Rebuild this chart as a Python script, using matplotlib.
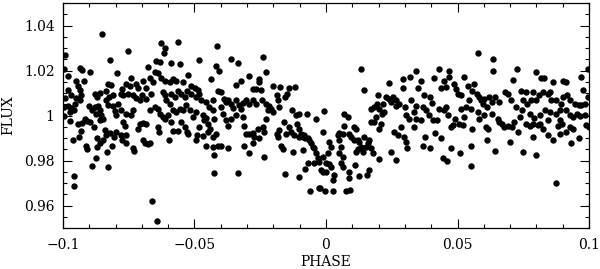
import matplotlib
matplotlib.use('Agg')
import matplotlib.pyplot as plt
from matplotlib.ticker import MultipleLocator, FuncFormatter
import numpy as np

# (phase, flux) pairs, grouped by phase range
seg1 = [(-0.0852,1.0362),(-0.0994,1.0270),(-0.0997,1.0207),(-0.0820,1.0246),(-0.0937,1.0212),(-0.0927,1.0201),
        (-0.0899,1.0195),(-0.0981,1.0174),(-0.0795,1.0188),(-0.0949,1.0155),(-0.0920,1.0155),(-0.0829,1.0141),
        (-0.0819,1.0137),(-0.0981,1.0114),(-0.0943,1.0133),(-0.0934,1.0114),(-0.0991,1.0077),(-0.0968,1.0089),
        (-0.0930,1.0092),(-0.0880,1.0096),(-0.0870,1.0082),(-0.0858,1.0102),(-0.0838,1.0108),(-0.0825,1.0082),
        (-0.0810,1.0089),(-0.0952,1.0077),(-0.0996,1.0038),(-0.0981,1.0041),(-0.0968,1.0035),(-0.0959,1.0023),
        (-0.0975,1.0016),(-0.0996,0.9996),(-0.0901,1.0041),(-0.0891,1.0026),(-0.0880,1.0038),(-0.0867,1.0041),
        (-0.0861,1.0023),(-0.0873,1.0008),(-0.0854,1.0001),(-0.0848,0.9985),(-0.0835,1.0067),(-0.0829,1.0045),
        (-0.0810,1.0041),(-0.0804,1.0020),(-0.0791,1.0052),(-0.0797,1.0001),(-0.0956,1.0049),(-0.0934,1.0067),
        (-0.0972,0.9976),(-0.0943,0.9964),(-0.0927,0.9967),(-0.0916,0.9985),(-0.0909,0.9976),(-0.0896,0.9970),
        (-0.0883,0.9949),(-0.0861,0.9979),(-0.0930,0.9932),(-0.0939,0.9905),(-0.0962,0.9891),(-0.0871,0.9902),
        (-0.0842,0.9935),(-0.0838,0.9913),(-0.0823,0.9924),(-0.0807,0.9905),(-0.0797,0.9927),(-0.0914,0.9866),
        (-0.0908,0.9852),(-0.0871,0.9861),(-0.0861,0.9876),(-0.0848,0.9893),(-0.0812,0.9866),(-0.0833,0.9839),
        (-0.0889,0.9777),(-0.0873,0.9810),(-0.0829,0.9770),(-0.0957,0.9729),(-0.0959,0.9688)]

seg2 = [(-0.0753,1.0287),(-0.0627,1.0321),(-0.0611,1.0302),(-0.0616,1.0276),(-0.0561,1.0326),(-0.0484,1.0246),
        (-0.0415,1.0307),(-0.0677,1.0214),(-0.0646,1.0244),(-0.0633,1.0236),(-0.0589,1.0233),(-0.0557,1.0231),
        (-0.0652,1.0192),(-0.0639,1.0188),(-0.0525,1.0182),(-0.0418,1.0221),(-0.0407,1.0200),(-0.0437,1.0162),
        (-0.0696,1.0155),(-0.0671,1.0167),(-0.0658,1.0148),(-0.0627,1.0167),(-0.0614,1.0155),(-0.0595,1.0148),
        (-0.0582,1.0162),(-0.0570,1.0155),(-0.0544,1.0151),(-0.0513,1.0129),(-0.0500,1.0123),(-0.0487,1.0114),
        (-0.0481,1.0096),(-0.0775,1.0118),(-0.0762,1.0141),(-0.0747,1.0129),(-0.0741,1.0167),(-0.0722,1.0141),
        (-0.0715,1.0123),(-0.0686,1.0123),(-0.0779,1.0096),(-0.0770,1.0089),(-0.0753,1.0096),(-0.0734,1.0089),
        (-0.0722,1.0079),(-0.0706,1.0070),(-0.0684,1.0074),(-0.0699,1.0089),(-0.0665,1.0096),(-0.0620,1.0104),
        (-0.0611,1.0089),(-0.0608,1.0067),(-0.0595,1.0052),(-0.0589,1.0096),(-0.0576,1.0082),(-0.0563,1.0111),
        (-0.0551,1.0096),(-0.0538,1.0082),(-0.0529,1.0111),(-0.0513,1.0096),(-0.0494,1.0082),(-0.0475,1.0067),
        (-0.0456,1.0060),(-0.0443,1.0038),(-0.0430,1.0023),(-0.0411,1.0108),(-0.0430,1.0070),(-0.0671,1.0023),
        (-0.0652,1.0038),(-0.0639,1.0030),(-0.0633,1.0008),(-0.0620,0.9994),(-0.0601,1.0001),(-0.0582,1.0023),
        (-0.0570,1.0016),(-0.0557,1.0030),(-0.0544,1.0023),(-0.0532,1.0045),(-0.0519,1.0023),(-0.0506,0.9994),
        (-0.0494,1.0016),(-0.0468,1.0001),(-0.0462,0.9979),(-0.0456,0.9990),(-0.0450,0.9964),(-0.0424,0.9986),
        (-0.0779,1.0023),(-0.0760,1.0008),(-0.0741,1.0001),(-0.0734,1.0023),(-0.0772,0.9972),(-0.0766,0.9952),
        (-0.0715,0.9942),(-0.0709,0.9964),(-0.0696,0.9967),(-0.0684,0.9964),(-0.0639,0.9949),(-0.0635,0.9927),
        (-0.0614,0.9986),(-0.0589,0.9972),(-0.0582,0.9931),(-0.0563,0.9931),(-0.0551,0.9972),(-0.0538,0.9949),
        (-0.0530,0.9927),(-0.0525,0.9917),(-0.0491,0.9913),(-0.0481,0.9949),(-0.0468,0.9908),(-0.0450,0.9927),
        (-0.0442,0.9942),(-0.0430,0.9905),(-0.0418,0.9920),(-0.0775,0.9891),(-0.0760,0.9913),(-0.0779,0.9913),
        (-0.0762,0.9876),(-0.0734,0.9854),(-0.0731,0.9844),(-0.0696,0.9891),(-0.0690,0.9876),(-0.0677,0.9873),
        (-0.0671,0.9876),(-0.0597,0.9891),(-0.0494,0.9891),(-0.0456,0.9866),(-0.0430,0.9861),(-0.0411,0.9864),
        (-0.0426,0.9744),(-0.0661,0.9618),(-0.0643,0.9533)]

seg3 = [(-0.0361,1.0251),(-0.0335,1.0232),(-0.0240,1.0262),(-0.0228,1.0192),(-0.0294,1.0174),(-0.0323,1.0155),
        (-0.0342,1.0137),(-0.0255,1.0162),(-0.0253,1.0148),(-0.0278,1.0118),(-0.0266,1.0118),(-0.0249,1.0114),
        (-0.0200,1.0131),(-0.0174,1.0128),(-0.0142,1.0123),(-0.0116,1.0128),(-0.0399,1.0104),(-0.0386,1.0074),
        (-0.0380,1.0060),(-0.0373,1.0067),(-0.0361,1.0052),(-0.0354,1.0035),(-0.0342,1.0070),(-0.0331,1.0045),
        (-0.0323,1.0030),(-0.0316,1.0055),(-0.0304,1.0067),(-0.0291,1.0052),(-0.0278,1.0067),(-0.0266,1.0052),
        (-0.0243,1.0070),(-0.0228,1.0052),(-0.0221,1.0023),(-0.0215,1.0041),(-0.0209,1.0030),(-0.0202,1.0016),
        (-0.0187,1.0089),(-0.0183,1.0067),(-0.0177,1.0038),(-0.0154,1.0082),(-0.0149,1.0096),(-0.0129,1.0023),
        (-0.0114,1.0001),(-0.0101,1.0008),(-0.0073,1.0008),(-0.0038,0.9986),(-0.0399,1.0038),(-0.0392,1.0008),
        (-0.0380,0.9979),(-0.0373,0.9952),(-0.0361,0.9986),(-0.0342,1.0001),(-0.0316,0.9994),(-0.0310,0.9952),
        (-0.0304,0.9920),(-0.0294,0.9917),(-0.0278,0.9923),(-0.0272,0.9905),(-0.0259,0.9942),(-0.0256,0.9898),
        (-0.0240,0.9949),(-0.0234,0.9927),(-0.0228,0.9986),(-0.0187,0.9920),(-0.0183,0.9905),(-0.0177,0.9935),
        (-0.0158,0.9972),(-0.0152,0.9920),(-0.0142,0.9949),(-0.0133,0.9927),(-0.0120,0.9913),(-0.0111,0.9964),
        (-0.0104,0.9938),(-0.0101,0.9905),(-0.0095,0.9920),(-0.0088,0.9905),(-0.0082,0.9913),(-0.0078,0.9898),
        (-0.0069,0.9902),(-0.0063,0.9891),(-0.0057,0.9876),(-0.0050,0.9861),(-0.0044,0.9854),(-0.0038,0.9832),
        (-0.0031,0.9810),(-0.0044,0.9788),(-0.0069,0.9788),(-0.0088,0.9846),(-0.0078,0.9761),(-0.0424,0.9825),
        (-0.0399,0.9864),(-0.0373,0.9854),(-0.0310,0.9864),(-0.0291,0.9832),(-0.0278,0.9876),(-0.0234,0.9817),
        (-0.0173,0.9864),(-0.0164,0.9849),(-0.0124,0.9839),(-0.0104,0.9726),(-0.0154,0.9739),(-0.0333,0.9744),
        (-0.0059,0.9666),(-0.0027,0.9678)]

seg4 = [(0.0133,1.0208),(0.0144,1.0113),(0.0197,1.0092),(0.0241,1.0143),(0.0292,1.0163),(0.0320,1.0170),
        (0.0342,1.0200),(0.0349,1.0123),(0.0292,1.0123),(0.0228,1.0082),(0.0241,1.0074),(0.0254,1.0082),
        (0.0247,1.0060),(0.0266,1.0067),(0.0279,1.0052),(0.0266,1.0041),(0.0302,1.0038),(0.0323,1.0067),
        (0.0342,1.0041),(0.0336,1.0016),(0.0304,1.0001),(0.0317,0.9986),(0.0342,0.9986),(0.0285,0.9949),
        (0.0336,0.9949),(0.0171,1.0030),(0.0184,1.0038),(0.0193,1.0052),(0.0203,1.0030),(0.0213,1.0008),
        (0.0216,1.0052),(0.0222,1.0016),(0.0190,0.9994),(0.0171,0.9972),(0.0184,0.9972),(0.0209,0.9964),
        (0.0203,0.9942),(0.0260,0.9927),(0.0273,0.9913),(0.0298,0.9905),(0.0304,0.9883),(0.0307,0.9854),
        (0.0247,0.9836),(0.0266,0.9802),(0.0201,0.9806),(0.0108,0.9949),(0.0114,0.9938),(0.0089,0.9920),
        (0.0095,0.9905),(0.0108,0.9891),(0.0121,0.9893),(0.0127,0.9883),(0.0133,0.9861),(0.0140,0.9839),
        (0.0152,0.9861),(0.0159,0.9876),(0.0165,0.9891),(0.0171,0.9854),(0.0178,0.9832),(0.0146,0.9905),
        (0.0114,0.9839),(0.0121,0.9849),(0.0112,0.9780),(0.0127,0.9729),(0.0156,0.9734),(0.0163,0.9758),
        (0.0089,0.9751),(0.0087,0.9722),(0.0068,1.0008),(0.0083,0.9994),(0.0070,0.9952),(0.0064,0.9920),
        (0.0049,0.9923),(0.0045,0.9913),(0.0051,0.9891),(0.0057,0.9861),(0.0051,0.9832),(0.0064,0.9817),
        (0.0057,0.9788),(0.0064,0.9773),(0.0032,0.9737),(0.0028,0.9714),(-0.0006,1.0020),(-0.0010,0.9927),
        (0.0013,0.9883),(0.0019,0.9861),(0.0007,0.9832),(-0.0012,0.9817),(0.0000,0.9788),(0.0013,0.9785),
        (0.0019,0.9773),(-0.0019,0.9758),(-0.0010,0.9750),(0.0000,0.9750),(-0.0025,0.9795),(-0.0022,0.9678),
        (-0.0003,0.9663),(0.0026,0.9666),(0.0076,0.9666),(0.0093,0.9667)]

seg5 = [(0.0579,1.0280),(0.0634,1.0251),(0.0636,1.0199),(0.0428,1.0207),(0.0466,1.0196),(0.0409,1.0167),
        (0.0437,1.0123),(0.0450,1.0155),(0.0456,1.0126),(0.0469,1.0172),(0.0488,1.0140),(0.0494,1.0118),
        (0.0501,1.0096),(0.0513,1.0089),(0.0526,1.0169),(0.0539,1.0133),(0.0545,1.0067),(0.0555,1.0111),
        (0.0564,1.0141),(0.0573,1.0096),(0.0583,1.0082),(0.0589,1.0067),(0.0596,1.0052),(0.0602,1.0074),
        (0.0611,1.0038),(0.0621,1.0082),(0.0631,1.0060),(0.0644,1.0082),(0.0659,1.0060),(0.0682,1.0104),
        (0.0691,1.0096),(0.0703,1.0070),(0.0710,1.0158),(0.0725,1.0207),(0.0722,1.0038),(0.0363,1.0152),
        (0.0374,1.0089),(0.0380,1.0023),(0.0368,1.0038),(0.0391,1.0001),(0.0396,1.0082),(0.0403,1.0055),
        (0.0421,0.9979),(0.0416,0.9923),(0.0431,1.0030),(0.0450,1.0023),(0.0456,1.0038),(0.0463,1.0001),
        (0.0475,0.9949),(0.0482,0.9957),(0.0492,0.9986),(0.0504,0.9961),(0.0513,1.0030),(0.0520,0.9957),
        (0.0526,0.9994),(0.0532,1.0038),(0.0551,1.0030),(0.0555,0.9942),(0.0577,1.0016),(0.0583,0.9986),
        (0.0602,1.0001),(0.0608,0.9949),(0.0615,0.9942),(0.0611,0.9893),(0.0631,1.0005),(0.0653,0.9986),
        (0.0659,0.9972),(0.0669,0.9961),(0.0678,0.9949),(0.0691,0.9952),(0.0707,0.9949),(0.0716,0.9972),
        (0.0729,0.9927),(0.0701,0.9883),(0.0643,0.9843),(0.0551,0.9864),(0.0509,0.9835),(0.0551,0.9776),
        (0.0475,0.9857),(0.0444,0.9810),(0.0460,0.9799),(0.0397,0.9854),(0.0368,0.9866),(0.0378,0.9905),
        (0.0437,0.9901),(0.0406,0.9979),(0.0361,0.9979)]

seg6 = [(0.0799,1.0194),(0.0818,1.0166),(0.0827,1.0166),(0.0865,1.0148),(0.0901,1.0152),(0.0911,1.0148),
        (0.0970,1.0173),(0.0997,1.0207),(0.0742,1.0108),(0.0761,1.0104),(0.0787,1.0104),(0.0749,1.0067),
        (0.0764,1.0052),(0.0780,1.0067),(0.0799,1.0070),(0.0809,1.0089),(0.0825,1.0104),(0.0844,1.0096),
        (0.0853,1.0104),(0.0856,1.0070),(0.0875,1.0067),(0.0894,1.0052),(0.0901,1.0082),(0.0916,1.0093),
        (0.0926,1.0067),(0.0945,1.0052),(0.0962,1.0045),(0.0971,1.0045),(0.0986,1.0052),(0.0996,1.0082),
        (0.0977,1.0114),(0.0746,1.0023),(0.0739,0.9994),(0.0774,1.0008),(0.0789,0.9990),(0.0812,1.0001),
        (0.0831,1.0023),(0.0850,1.0016),(0.0875,1.0008),(0.0888,1.0023),(0.0913,1.0023),(0.0926,1.0001),
        (0.0939,0.9994),(0.0954,1.0008),(0.0967,0.9999),(0.0983,1.0001),(0.0761,0.9964),(0.0774,0.9952),
        (0.0787,0.9964),(0.0806,0.9957),(0.0815,0.9964),(0.0825,0.9942),(0.0844,0.9979),(0.0882,0.9952),
        (0.0888,0.9979),(0.0898,0.9961),(0.0913,0.9927),(0.0926,0.9949),(0.0941,0.9942),(0.0989,0.9957),
        (0.0999,0.9949),(0.0787,0.9905),(0.0797,0.9824),(0.0844,0.9913),(0.0865,0.9891),(0.0888,0.9920),
        (0.0962,0.9898),(0.0932,0.9879),(0.0749,0.9836),(0.0873,0.9702)]

x_label = "PHASE"
y_label = "FLUX"

pts = np.array(seg1 + seg2 + seg3 + seg4 + seg5 + seg6)
phase = pts[:, 0]
flux = pts[:, 1]

plt.rcParams['font.family'] = ['DejaVu Serif']
fig = plt.figure(figsize=(6.0, 2.69), dpi=100)
ax = fig.add_axes([63/600, 1 - 228/269, 526/600, 225/269])
ax.plot(phase, flux, 'o', color='black', markersize=4.6, markeredgewidth=0)
ax.set_xlim(-0.1, 0.1)
ax.set_ylim(0.95, 1.05)
ax.xaxis.set_major_locator(MultipleLocator(0.05))
ax.xaxis.set_minor_locator(MultipleLocator(0.01))
ax.yaxis.set_major_locator(MultipleLocator(0.02))
ax.yaxis.set_minor_locator(MultipleLocator(0.005))

def fmt(v, pos):
    s = '%g' % round(v, 4)
    return s.replace('-', '\u2212')

ax.xaxis.set_major_formatter(FuncFormatter(fmt))
ax.yaxis.set_major_formatter(FuncFormatter(fmt))
ax.tick_params(which='both', direction='in', top=True, right=True, width=0.8, labelsize=10)
ax.tick_params(which='major', length=6.5)
ax.tick_params(which='minor', length=3)
ax.tick_params(axis='x', which='major', pad=7)
ax.tick_params(axis='y', which='major', pad=6)
for s in ax.spines.values():
    s.set_linewidth(0.9)
ax.set_xlabel(x_label, fontsize=10, labelpad=2)
ax.set_ylabel(y_label, fontsize=10, labelpad=6)
fig.savefig('out.png', dpi=100)
